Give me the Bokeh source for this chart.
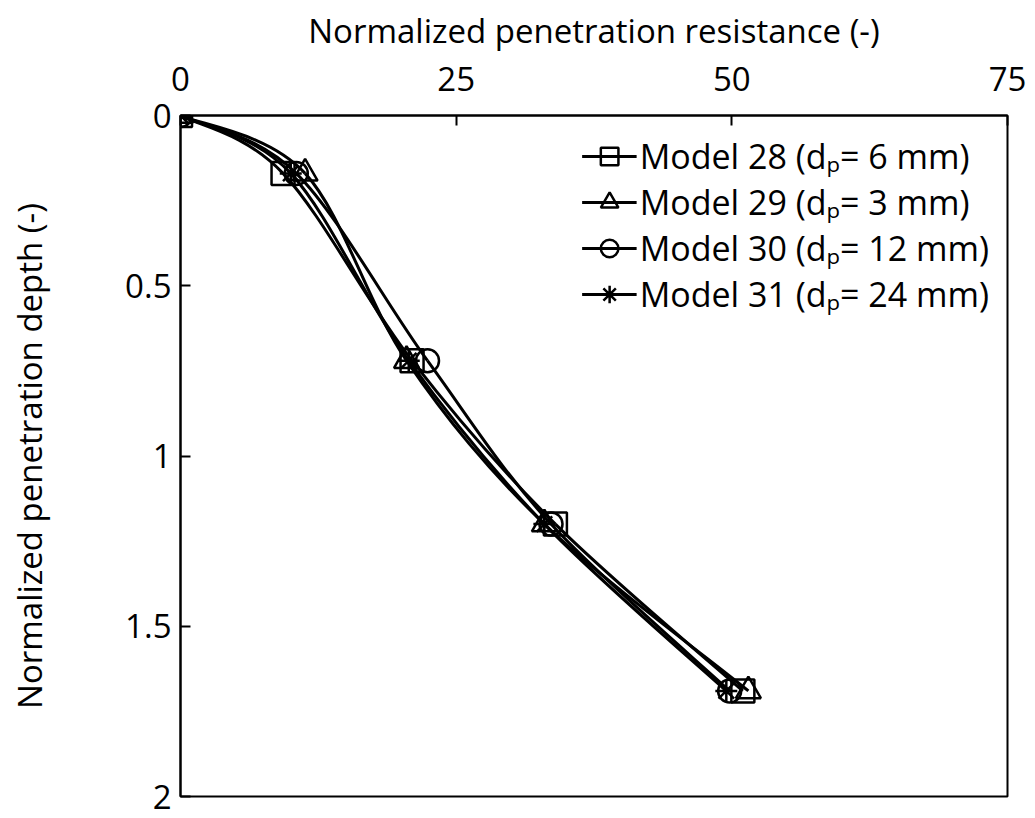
import numpy as np
from bokeh.plotting import figure
from bokeh.models import Range1d, FixedTicker, Legend, LegendItem, ColumnDataSource
from bokeh.embed import file_html
from bokeh.resources import INLINE

# ---- data ----
depth = [0.0, 0.17, 0.72, 1.20, 1.69]
res_m28 = [0.0, 9.3, 21.0, 34.0, 51.0]
res_m29 = [0.0, 11.3, 20.5, 33.0, 51.5]
res_m30 = [0.0, 10.5, 22.4, 33.6, 49.8]
res_m31 = [0.0, 10.0, 20.7, 33.0, 49.5]
series_labels = ["Model 28 (d\u209a= 6 mm)", "Model 29 (d\u209a= 3 mm)",
                 "Model 30 (d\u209a= 12 mm)", "Model 31 (d\u209a= 24 mm)"]
x_ticks = [0, 25, 50, 75]
y_ticks = [0, 0.5, 1, 1.5, 2]
y_tick_labels = ["0", "0.5", "1", "1.5", "2"]
x_title = "Normalized penetration resistance (-)"
y_title = "Normalized penetration depth (-)"

FONT = "Open Sans"
FS = "33px"

p = figure(width=1035, height=818, output_backend="svg", toolbar_location=None,
           x_range=Range1d(0, 75), y_range=Range1d(2, 0),
           x_axis_location="above", min_border_left=180, min_border_right=28,
           min_border_top=115, min_border_bottom=22)
p.grid.visible = False
p.outline_line_color = "black"
p.outline_line_width = 2
p.background_fill_color = "white"
p.border_fill_color = "white"

for ax in (p.xaxis[0], p.yaxis[0]):
    ax.axis_line_width = 2
    ax.axis_line_color = "black"
    ax.major_tick_in = 10
    ax.major_tick_out = 0
    ax.major_tick_line_width = 2
    ax.minor_tick_line_color = None
    ax.major_label_text_font = FONT
    ax.major_label_text_font_size = FS
    ax.major_label_text_color = "black"
    ax.axis_label_text_font = FONT
    ax.axis_label_text_font_size = FS
    ax.axis_label_text_font_style = "normal"
    ax.axis_label_text_color = "black"

p.xaxis[0].ticker = FixedTicker(ticks=x_ticks)
p.yaxis[0].ticker = FixedTicker(ticks=y_ticks)
p.yaxis[0].major_label_overrides = {t: l for t, l in zip(y_ticks, y_tick_labels)}
p.xaxis[0].axis_label = x_title
p.yaxis[0].axis_label = y_title
p.xaxis[0].major_label_standoff = 25
p.xaxis[0].axis_label_standoff = 11
p.yaxis[0].major_label_standoff = 9
p.yaxis[0].axis_label_standoff = 70


def smooth(xs, ys, t=1.0 / 6.0):
    n = len(xs)
    d = dict(x0=[], y0=[], x1=[], y1=[], cx0=[], cy0=[], cx1=[], cy1=[])
    for i in range(n - 1):
        ip = max(i - 1, 0)
        inn = min(i + 2, n - 1)
        d["x0"].append(xs[i]); d["y0"].append(ys[i])
        d["x1"].append(xs[i + 1]); d["y1"].append(ys[i + 1])
        d["cx0"].append(xs[i] + (xs[i + 1] - xs[ip]) * t)
        d["cy0"].append(ys[i] + (ys[i + 1] - ys[ip]) * t)
        d["cx1"].append(xs[i + 1] - (xs[inn] - xs[i]) * t)
        d["cy1"].append(ys[i + 1] - (ys[inn] - ys[i]) * t)
    return ColumnDataSource(d)


LW = 3
items = []
series = [(res_m28, "square", 23), (res_m29, "triangle", 25),
          (res_m30, "circle", 23), (res_m31, "asterisk", 22)]
for (xs, mk, sz), lab in zip(series, series_labels):
    p.bezier(x0="x0", y0="y0", x1="x1", y1="y1", cx0="cx0", cy0="cy0",
             cx1="cx1", cy1="cy1", source=smooth(xs, depth),
             line_color="black", line_width=LW)
    leg_line = p.line(x=[np.nan], y=[np.nan], line_color="black", line_width=LW)
    r = p.scatter(x=xs, y=depth, marker=mk, size=sz, line_color="black",
                  line_width=2.5, fill_color=None)
    items.append(LegendItem(label=lab, renderers=[leg_line, r]))

legend = Legend(items=items, location="top_right",
                label_text_font=FONT, label_text_font_size="34px",
                label_text_color="black",
                glyph_width=55, glyph_height=44, label_height=44,
                spacing=0, label_standoff=3, padding=0, margin=18,
                border_line_color=None, background_fill_alpha=0)
p.add_layout(legend)

open("out.html", "w").write(file_html(p, INLINE))
